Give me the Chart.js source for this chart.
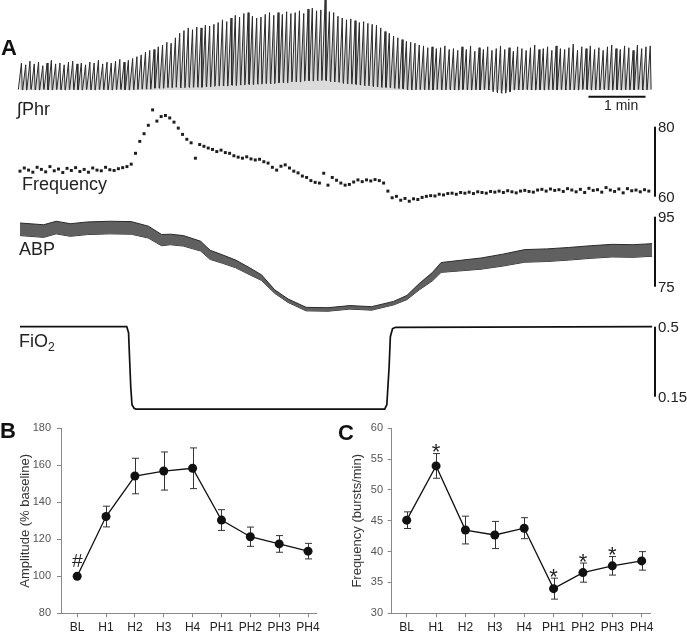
<!DOCTYPE html>
<html>
<head>
<meta charset="utf-8">
<title>Hypoxia: phrenic, frequency, ABP, FiO2</title>
<script src="https://cdn.jsdelivr.net/npm/chart.js@4.4.1/dist/chart.umd.min.js"></script>
<style>
  body { margin: 0; background: #fff; }
  #fig { position: relative; width: 687px; height: 636px; overflow: hidden;
         font-family: "Liberation Sans", Arial, sans-serif; color: #222; }
  #fig canvas { position: absolute; }
  .lbl { position: absolute; line-height: 1; white-space: nowrap; }
  .panel { font-weight: bold; font-size: 22px; color: #111; }
  .trace { font-size: 18px; }
  .trace sub { font-size: 12px; vertical-align: -4px; line-height: 0; }
</style>
</head>
<body>
<div id="fig">
  <canvas id="phr" width="687" height="420" style="left:0;top:0"></canvas>
  <canvas id="rate" width="687" height="420" style="left:0;top:0"></canvas>
  <canvas id="abp" width="687" height="420" style="left:0;top:0"></canvas>
  <canvas id="fio2" width="687" height="420" style="left:0;top:0"></canvas>
  <canvas id="amp" width="325" height="251" style="left:18px;top:385px"></canvas>
  <canvas id="frq" width="337" height="251" style="left:350px;top:385px"></canvas>

  <div class="lbl panel" style="left:1px;top:37px">A</div>
  <div class="lbl trace" style="left:17px;top:100px">∫Phr</div>
  <div class="lbl trace" style="left:22px;top:175px">Frequency</div>
  <div class="lbl trace" style="left:19px;top:240px">ABP</div>
  <div class="lbl trace" style="left:19px;top:332px">FiO<sub>2</sub></div>
  <div class="lbl" style="left:604px;top:98px;font-size:14px">1 min</div>
  <div class="lbl panel" style="left:0;top:420px">B</div>
  <div class="lbl panel" style="left:338px;top:422px">C</div>
</div>

<script>
// ---- panel A: one trace, ~11 min, time in s ----
const breathStep = 4.5;   // s between plotted breaths

// breath-by-breath frequency (breaths/min)
const freqBpm = [
  67.3, 68.2, 67.6, 67.0, 68.4, 67.8, 67.1, 68.6, 67.4, 67.9, 66.9, 68.1, 67.5, 68.3, 67.2, 67.8, 67.0, 68.2, 67.6, 67.4, 68.4, 67.7, 67.5, 68.0, 68.3,
  68.6, 69.3, 72.4, 75.8, 78.0, 80.4, 84.8, 81.6, 82.9, 83.2, 82.5, 81.3, 79.6, 77.8, 76.4, 75.4, 71.0, 74.9, 74.4, 73.9, 73.5, 72.9, 73.3, 72.6, 72.4, 71.7,
  71.3, 71.0, 71.4, 70.8, 70.5, 70.7, 70.0, 69.6, 68.4, 67.6, 68.7, 69.1, 68.2, 67.3, 66.8, 65.9, 65.5, 64.6, 64.1, 63.9, 66.7, 63.3, 65.5, 64.7, 63.9,
  63.3, 63.5, 64.2, 64.8, 64.3, 64.8, 64.5, 64.9, 64.6, 63.9, 61.6, 59.7, 60.1, 59.0, 59.5, 58.7, 59.4, 59.2, 59.8, 60.1, 60.3, 60.2, 60.7, 60.5, 60.9,
  61.0, 60.7, 61.2, 61.0, 61.3, 60.9, 61.4, 61.2, 61.0, 61.5, 61.3, 61.6, 61.2, 61.7, 61.4, 61.1, 61.6, 61.8, 61.5, 61.3,
  61.9, 62.1, 61.6, 62.2, 61.8, 62.0, 61.5, 62.3, 61.9, 61.4, 62.1, 61.2, 62.4, 61.8, 62.0, 61.3, 62.6, 61.9, 61.5, 62.2,
  61.1, 62.3, 61.7, 61.9, 61.4, 62.0, 61.6
];

// integrated phrenic burst peaks and troughs (a.u.)
const phrPeak = [
  3.0, 2.8, 3.2, 2.9, 3.1, 2.7, 3.0, 3.3, 2.9, 3.0, 2.8, 3.1, 3.2, 2.9, 3.0, 2.8, 3.1, 3.0, 3.3, 2.9, 3.1, 3.0, 3.2, 3.4, 3.1, 3.3,
  3.5, 3.7, 3.9, 4.2, 4.4, 4.5, 4.8, 5.0, 5.3, 5.2, 5.8, 6.3, 6.6, 6.9, 6.7, 7.0, 6.9, 7.2, 7.1, 7.3, 7.5, 7.8, 7.6, 8.0, 8.3,
  8.1, 8.5, 8.6, 8.2, 8.0, 8.1, 8.4, 8.6, 8.3, 8.6, 8.4, 8.7, 8.5, 8.6, 8.8, 8.5, 9.0, 9.1, 8.8, 8.9, 10.0, 8.7, 8.6, 8.2, 8.0,
  7.8, 7.9, 7.7, 7.5, 7.6, 7.4, 7.3, 7.2, 6.9, 6.5, 6.3, 6.0, 5.8, 5.6, 5.4, 5.3, 5.2, 5.0, 4.9, 4.7, 4.8, 4.6, 4.7, 4.9, 4.5,
  4.6, 4.4, 4.8, 4.5, 4.9, 4.3, 4.7, 4.5, 4.8, 4.4, 4.6, 4.9, 4.5, 4.7, 4.3, 4.8, 4.6, 4.4, 4.7, 5.0,
  4.5, 4.6, 4.8, 4.4, 4.9, 4.6, 4.5, 4.7, 5.1, 4.4, 4.8, 4.6, 4.9, 4.5, 4.7, 4.4, 4.8, 5.0, 4.6, 4.5,
  4.9, 4.7, 4.4, 5.0, 4.6, 4.8, 4.9
];
const phrTrough = [
  0.05, 0.0, 0.1, 0.05, 0.0, 0.1, 0.05, 0.0, 0.05, 0.1, 0.0, 0.05, 0.1, 0.05, 0.0, 0.05, 0.1, 0.0, 0.05, 0.1, 0.05, 0.0, 0.05, 0.1, 0.05, 0.0, 0.1, 0.05, 0.1, 0.15, 0.1,
  0.2, 0.25, 0.2, 0.3, 0.25, 0.3, 0.3, 0.25, 0.35, 0.3, 0.35, 0.3, 0.4, 0.35, 0.4,
  0.45, 0.5, 0.45, 0.55, 0.5, 0.6, 0.55, 0.65, 0.6, 0.7, 0.65, 0.7, 0.75, 0.7, 0.8,
  0.85, 0.8, 0.9, 0.95, 0.9, 1.0, 1.05, 1.0, 1.1, 1.05, 1.1, 1.0,
  0.95, 0.9, 0.85, 0.75, 0.7, 0.65, 0.6, 0.55,
  0.5, 0.45, 0.4, 0.35, 0.3, 0.3, 0.25, 0.2, 0.15, 0.1,
  0.05, 0.0, 0.05, 0.1, 0.05, 0.0, 0.05, 0.05, 0.0, 0.1, 0.05, 0.0, 0.05, 0.1, 0.0, 0.05, 0.0, 0.05, 0.1, 0.0,
  -0.2, -0.3, -0.35, -0.2,
  0.0, 0.05, 0.0, 0.1, 0.05, 0.0, 0.05, 0.0, 0.1, 0.05, 0.0, 0.05, 0.1, 0.0, 0.05, 0.0, 0.05, 0.1, 0.0, 0.05,
  0.0, 0.1, 0.05, 0.0, 0.05, 0.0, 0.1, 0.05, 0.0, 0.05, 0.1, 0.0, 0.05
];

// arterial blood pressure envelope (mmHg)
const abpTime = [0, 25, 38, 53, 71, 94, 117, 135, 149, 158, 172, 190, 200, 213, 227, 241, 254, 268, 282, 301, 324, 347, 370, 393, 407, 420, 434, 443, 462, 485, 508, 531, 554, 577, 600, 623, 645, 665];
const abpUpper = [93.2, 92.7, 93.7, 93.0, 93.5, 93.7, 93.6, 92.3, 89.9, 90.0, 89.6, 88.0, 85.4, 84.1, 82.6, 80.5, 78.4, 74.1, 71.5, 69.1, 69.0, 69.6, 69.3, 70.8, 72.5, 75.9, 79.1, 81.9, 82.5, 83.2, 84.3, 85.6, 85.8, 86.2, 86.7, 87.1, 87.0, 87.3];
const abpLower = [89.6, 89.1, 90.1, 89.4, 89.9, 90.1, 90.0, 88.9, 86.7, 87.0, 86.6, 85.2, 82.8, 81.7, 80.4, 78.5, 76.8, 73.1, 70.5, 68.1, 68.0, 68.6, 68.3, 69.8, 71.3, 74.1, 76.7, 79.1, 79.5, 80.0, 80.9, 82.0, 82.2, 82.6, 83.1, 83.5, 83.4, 83.7];

// inspired O2 fraction
const fio2Time = [0, 112.3, 114.2, 115.2, 116.5, 117.8, 120, 122, 383.6, 385.9, 388.3, 389.6, 391.9, 395.1, 665];
const fio2Val  = [0.5, 0.5, 0.47, 0.35, 0.2, 0.11, 0.092, 0.088, 0.088, 0.11, 0.3, 0.45, 0.49, 0.497, 0.5];

const timeBar = [598, 658];   // 1 min

// ---- panels B and C: group means +- SEM ----
const phases = ['BL', 'H1', 'H2', 'H3', 'H4', 'PH1', 'PH2', 'PH3', 'PH4'];
const ampMean = [100, 132.3, 154.2, 156.9, 158.4, 130.4, 121.4, 117.5, 113.6];
const ampSem  = [0, 5.6, 9.6, 10.3, 11.0, 5.6, 5.2, 4.5, 4.2];
const ampMarks = ['#', '', '', '', '', '', '', '', ''];
const rateMean = [45.1, 53.9, 43.5, 42.7, 43.8, 34.0, 36.6, 37.7, 38.5];
const rateSem  = [1.35, 2.0, 2.25, 2.2, 1.7, 1.7, 1.55, 1.5, 1.5];
const rateMarks = ['', '*', '', '', '', '*', '*', '*', ''];

const FONT = '"Liberation Sans", Arial, sans-serif';
Chart.defaults.font.family = FONT;
Chart.defaults.color = '#222';

// vertical calibration bar drawn at the right edge of a trace
const scaleBarPlugin = {
  id: 'scaleBar',
  afterDraw(chart, args, opts) {
    if (opts.lo === undefined) return;
    const { ctx, chartArea, scales: { y } } = chart;
    const x = chartArea.right;
    const y1 = y.getPixelForValue(opts.hi), y2 = y.getPixelForValue(opts.lo);
    ctx.save();
    ctx.fillStyle = '#111';
    ctx.fillRect(x - 1, y1, 2, y2 - y1);
    ctx.font = '15px ' + FONT;
    ctx.textAlign = 'left';
    ctx.textBaseline = 'middle';
    ctx.fillStyle = '#222';
    ctx.fillText(String(opts.hi), x + 3, y1 + 1.5);
    ctx.fillText(String(opts.lo), x + 3, y2 + 1.5);
    ctx.restore();
  }
};

const traceX = { type: 'linear', min: 0, max: 668, display: false };

function traceChart(id, top, bottom, yMin, yMax, datasets, bar) {
  return new Chart(document.getElementById(id), {
    type: 'line',
    data: { datasets },
    options: {
      responsive: false, animation: false, events: [],
      layout: { padding: { left: 20, right: 32, top: top, bottom: 420 - bottom } },
      plugins: { legend: { display: false }, tooltip: { enabled: false }, scaleBar: bar || {} },
      scales: { x: traceX, y: { display: false, min: yMin, max: yMax } }
    },
    plugins: [scaleBarPlugin]
  });
}

// phrenic bursts: ramp up to peak, quick fall
const phrPts = [];
phrPeak.forEach((p, i) => {
  const t = i * breathStep + 1.5;
  phrPts.push({ x: t - 3.2, y: phrTrough[i] }, { x: t, y: p }, { x: t + 0.9, y: phrTrough[i] });
});

traceChart('phr', 0, 90, 0, 10, [
  { data: phrPts, borderColor: '#2a2a2a', borderWidth: 1, pointRadius: 0, tension: 0, clip: false,
    fill: 'origin', backgroundColor: 'rgba(0,0,0,0.14)' },
  { data: timeBar.map(t => ({ x: t, y: -0.74 })), borderColor: '#111', borderWidth: 2, pointRadius: 0, clip: false }
]);

traceChart('rate', 105.7, 203.7, 58, 86, [
  { data: freqBpm.map((v, i) => ({ x: i * breathStep, y: v })), showLine: false,
    pointStyle: 'rect', pointRadius: 2.1, pointBackgroundColor: '#1e1e1e', pointBorderWidth: 0, clip: false }
], { lo: 60, hi: 80 });

traceChart('abp', 213.2, 321.7, 65, 96, [
  { data: abpTime.map((t, i) => ({ x: t, y: abpUpper[i] })), borderColor: '#2a2a2a', borderWidth: 1,
    backgroundColor: '#606060', fill: '+1', pointRadius: 0, clip: false },
  { data: abpTime.map((t, i) => ({ x: t, y: abpLower[i] })), borderColor: '#2a2a2a', borderWidth: 1,
    pointRadius: 0, fill: false, clip: false }
], { lo: 75, hi: 95 });

traceChart('fio2', 316.7, 416.7, 0.05, 0.55, [
  { data: fio2Time.map((t, i) => ({ x: t, y: fio2Val[i] })), borderColor: '#111', borderWidth: 1.7,
    pointRadius: 0, tension: 0, clip: false }
], { lo: 0.15, hi: 0.5 });

// error bars and significance marks
const errBarPlugin = {
  id: 'errBars',
  beforeDatasetsDraw(chart, args, opts) {
    const { ctx, scales: { x, y } } = chart;
    ctx.save();
    ctx.strokeStyle = '#333';
    ctx.lineWidth = 1;
    opts.mean.forEach((m, i) => {
      const s = opts.sem[i];
      if (!s) return;
      const px = Math.round(x.getPixelForValue(i)) + 0.5;
      const top = y.getPixelForValue(m + s), bot = y.getPixelForValue(m - s);
      ctx.beginPath();
      ctx.moveTo(px, top); ctx.lineTo(px, bot);
      ctx.moveTo(px - 3.5, top); ctx.lineTo(px + 3.5, top);
      ctx.moveTo(px - 3.5, bot); ctx.lineTo(px + 3.5, bot);
      ctx.stroke();
    });
    ctx.restore();
  },
  afterDatasetsDraw(chart, args, opts) {
    const { ctx, scales: { x, y } } = chart;
    ctx.save();
    ctx.fillStyle = '#222';
    ctx.textAlign = 'center';
    ctx.textBaseline = 'alphabetic';
    opts.marks.forEach((mk, i) => {
      if (!mk) return;
      const px = x.getPixelForValue(i);
      const top = y.getPixelForValue(opts.mean[i] + opts.sem[i]);
      if (mk === '*') { ctx.font = '22px ' + FONT; ctx.fillText(mk, px, top + 5.6); }
      else { ctx.font = '19px ' + FONT; ctx.fillText(mk, px, top - 9); }
    });
    ctx.restore();
  }
};

function groupChart(id, mean, sem, marks, yMin, yMax, step, title, o) {
  return new Chart(document.getElementById(id), {
    type: 'line',
    data: { datasets: [{
      data: mean.map((v, i) => ({ x: i, y: v })),
      borderColor: '#111', borderWidth: 1.3, tension: 0,
      pointRadius: 4.5, pointBackgroundColor: '#111', pointBorderWidth: 0
    }] },
    options: {
      responsive: false, animation: false, events: [],
      layout: { padding: { left: 0, right: o.right, top: 43.3, bottom: 0 } },
      plugins: { legend: { display: false }, tooltip: { enabled: false },
                 errBars: { mean, sem, marks } },
      scales: {
        x: {
          type: 'linear', min: o.xMin, max: 8.3,
          afterBuildTicks: s => { s.ticks = phases.map((p, i) => ({ value: i })); },
          afterFit: s => { s.height = 22.7; },
          grid: { drawOnChartArea: false, drawTicks: true, tickLength: 4, color: '#888' },
          border: { display: true, color: '#888', width: 1 },
          ticks: { autoSkip: false, maxRotation: 0, padding: 3, color: '#222',
                   font: { size: 12 }, callback: v => phases[v] }
        },
        y: {
          min: yMin, max: yMax,
          afterFit: s => { s.width = o.yW; },
          grid: { drawOnChartArea: false, tickLength: 4, color: '#888' },
          border: { display: true, color: '#888', width: 1 },
          ticks: { stepSize: step, color: '#555', font: { size: 11 }, padding: o.tickPad },
          title: { display: true, text: title, color: '#333', font: { size: 13 }, padding: 0 }
        }
      }
    },
    plugins: [errBarPlugin]
  });
}

groupChart('amp', ampMean, ampSem, ampMarks, 80, 180, 20, 'Amplitude (% baseline)',
  { xMin: -0.56, right: 26.3, yW: 43, tickPad: 6 });
groupChart('frq', rateMean, rateSem, rateMarks, 30, 60, 5, 'Frequency (bursts/min)',
  { xMin: -0.51, right: 36.5, yW: 41.7, tickPad: 4.7 });
</script>
</body>
</html>
